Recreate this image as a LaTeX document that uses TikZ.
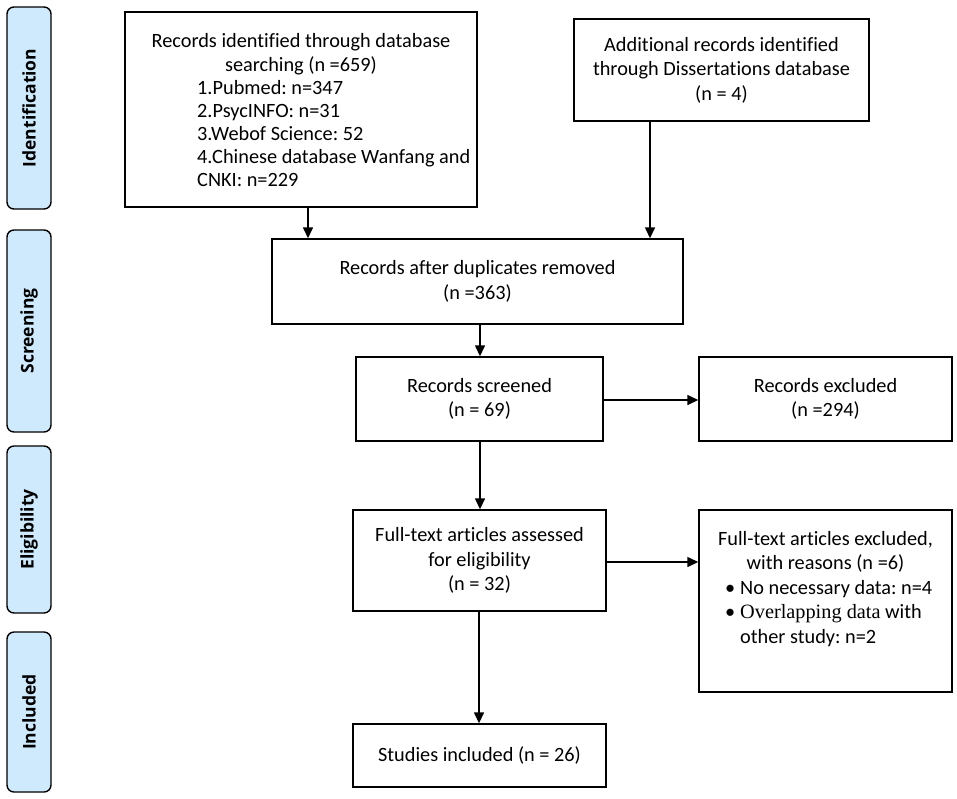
\documentclass[tikz,border=0pt]{standalone}
\usepackage{fontspec}
\setmainfont{Carlito}[Ligatures=CommonOff]
\newfontfamily\bandfont{Open Sans}
\newfontfamily\timesfont{Liberation Serif}[Ligatures=CommonOff]
\usetikzlibrary{arrows.meta}
\definecolor{bandblue}{RGB}{206,234,252}
\newcommand\boxfs{\fontsize{20.3}{24.5}\selectfont}
\newcommand\listfs{\fontsize{20.3}{23}\selectfont}
\frenchspacing
\tikzset{
  box/.style={draw=black, line width=1.4pt, inner sep=0pt, align=center, font=\boxfs},
  band/.style={draw=black, line width=1.4pt, fill=bandblue, rounded corners=7pt,
    inner sep=0pt, rotate=90, font=\bandfont\bfseries\fontsize{17.5}{20}\selectfont},
  txt/.style={inner sep=0pt, font=\boxfs},
  arr/.style={-{Triangle[length=11pt,width=10pt]}, line width=1.4pt}
}
\begin{document}
\begin{tikzpicture}[x=1pt,y=-1pt]
\useasboundingbox (0,0) rectangle (957,798);
% phase bands
\node[band, minimum width=202, minimum height=44] (bid) at (29,108) {Identification};
\node[band, minimum width=202, minimum height=44] (bsc) at (29,331) {Screening};
\node[band, minimum width=167, minimum height=44] (bel) at (29,529.5) {Eligibility};
\node[band, minimum width=160, minimum height=44] (bin) at (29,712) {Included};
% boxes
\node[box, minimum width=352, minimum height=195] (b1) at (301,109.5) {};
\node[txt, align=center, anchor=north] (b1h) at (301,33) {Records identified through database\\searching (n =659)};
\node[txt, align=left, anchor=north west, font=\listfs] (b1l) at (197,80) {1.Pubmed: n=347\\2.PsycINFO: n=31\\3.Webof Science: 52\\4.Chinese database Wanfang and\\CNKI: n=229};
\node[box, minimum width=295, minimum height=102] (b2) at (721.5,70) {Additional records identified\\through Dissertations database\\(n = 4)};
\node[box, minimum width=411, minimum height=85] (b3) at (477.5,281.5) {Records after duplicates removed\\(n =363)};
\node[box, minimum width=247, minimum height=84] (b4) at (479.5,399) {Records screened\\(n = 69)};
\node[box, minimum width=253, minimum height=84] (b5) at (825.5,399) {Records excluded\\(n =294)};
\node[box, minimum width=253, minimum height=101] (b6) at (479.5,560.5) {Full-text articles assessed\\for eligibility\\(n = 32)};
\node[box, minimum width=253, minimum height=182] (b7) at (825.5,601) {};
\node[txt, align=center, anchor=north] (b7h) at (825.5,531) {Full-text articles excluded,\\with reasons (n =6)};
\node[txt, align=left, anchor=north west] (b7l) at (740,580) {\llap{\textbullet\hspace{5pt}}No necessary data: n=4\\\llap{\textbullet\hspace{5pt}}{\timesfont Overlapping data} with\\other study: n=2};
\node[box, minimum width=253, minimum height=63] (b8) at (479.5,755.5) {Studies included (n = 26)};
% connectors
\coordinate (xa) at (308,0);
\coordinate (xb) at (650,0);
\coordinate (xc) at (480,0);
\coordinate (xd) at (479,0);
\coordinate (ya) at (0,400);
\coordinate (yb) at (0,562);
\draw[arr] (b1.south -| xa) -- (b3.north -| xa);
\draw[arr] (b2.south -| xb) -- (b3.north -| xb);
\draw[arr] (b3.south -| xc) -- (b4.north -| xc);
\draw[arr] (b4.east |- ya) -- (b5.west |- ya);
\draw[arr] (b4.south -| xc) -- (b6.north -| xc);
\draw[arr] (b6.east |- yb) -- (b7.west |- yb);
\draw[arr] (b6.south -| xd) -- (b8.north -| xd);
\end{tikzpicture}
\end{document}
